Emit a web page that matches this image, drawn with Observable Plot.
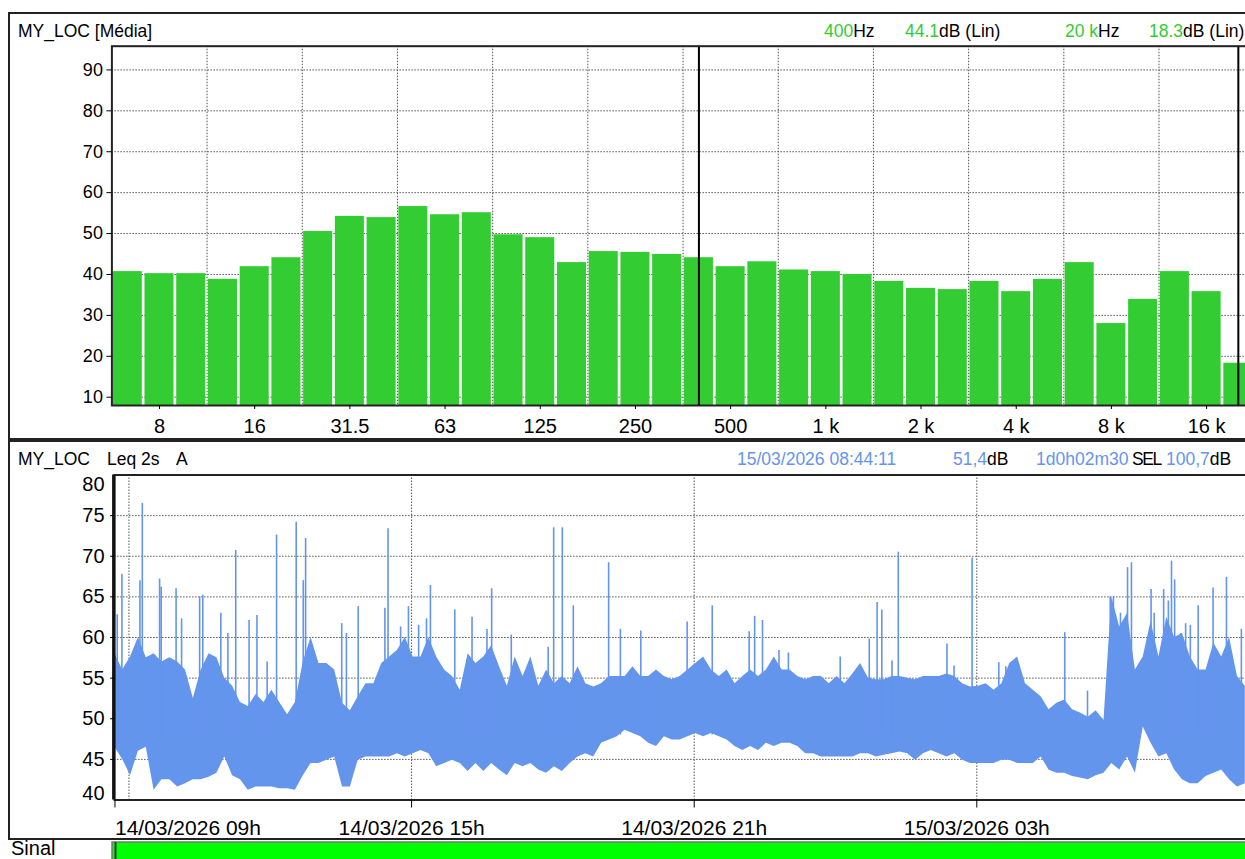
<!DOCTYPE html>
<html><head><meta charset="utf-8">
<script src="https://cdn.jsdelivr.net/npm/d3@7"></script>
<script src="https://cdn.jsdelivr.net/npm/@observablehq/plot@0.6"></script>
<style>
html,body{margin:0;padding:0;background:#fff;overflow:hidden;width:1245px;height:859px;}
body{position:relative;font-family:"Liberation Sans",Arial,sans-serif;color:#000;}
.abs{position:absolute;white-space:nowrap;line-height:1;font-size:17.5px;}
.frame{position:absolute;border:2px solid #222;box-sizing:border-box;}
.g{color:#33cc33}.b{color:#6495ED}
#top,#bottom,#sinal{position:absolute;left:0;width:1260px}
#top svg,#bottom svg,#sinal svg{max-width:none!important;display:block}
</style></head><body>
<div class="frame" style="left:8px;top:12px;width:1300px;height:428px"></div>
<div class="frame" style="left:8px;top:440px;width:1300px;height:400px"></div>
<div id="top" style="top:0"></div>
<div id="bottom" style="top:440px"></div>
<div id="sinal" style="top:841px"></div>

<div class="abs" style="left:18px;top:22.5px">MY_LOC [Média]</div>
<div class="abs" style="left:824px;top:22.5px"><span class="g">400</span>Hz</div>
<div class="abs" style="left:905px;top:22.5px"><span class="g">44.1</span>dB (Lin)</div>
<div class="abs" style="left:1065px;top:22.5px"><span class="g">20 k</span>Hz</div>
<div class="abs" style="left:1149px;top:22.5px"><span class="g">18.3</span>dB (Lin)</div>

<div class="abs" style="left:18px;top:450.5px">MY_LOC</div>
<div class="abs" style="left:107px;top:450.5px">Leq 2s</div>
<div class="abs" style="left:176px;top:450.5px">A</div>
<div class="abs b" style="left:737px;top:450.5px">15/03/2026 08:44:11</div>
<div class="abs" style="left:953px;top:450.5px"><span class="b">51,4</span>dB</div>
<div class="abs b" style="left:1036px;top:450.5px">1d0h02m30</div>
<div class="abs" style="left:1132px;top:450.5px;letter-spacing:-1.4px">SEL</div>
<div class="abs" style="left:1166px;top:450.5px"><span class="b">100,7</span>dB</div>
<div class="abs" style="left:11px;top:838px;font-size:20px">Sinal</div>

<script>
// ---------- Spectrum (1/3 octave, Média) ----------
const bands = ["6.3","8","10","12.5","16","20","25","31.5","40","50","63","80","100","125","160","200","250","315","400","500","630","800","1 k","1.25 k","1.6 k","2 k","2.5 k","3.15 k","4 k","5 k","6.3 k","8 k","10 k","12.5 k","16 k","20 k"];
const levels = [40.7,40.2,40.2,38.8,41.9,44.1,50.5,54.2,53.9,56.6,54.6,55.1,49.7,49.0,42.9,45.6,45.4,44.9,44.1,41.9,43.1,41.1,40.7,40.0,38.3,36.6,36.3,38.3,35.8,38.8,42.9,28.0,33.9,40.7,35.8,18.3];
const bandTicks = ["8","16","31.5","63","125","250","500","1 k","2 k","4 k","8 k","16 k"];
const octaveEdges = ["10","20","40","80","160","315","630","1.25 k","2.5 k","5 k","10 k"];
const cursorBands = ["400","20 k"];
const dbTicks = [10,20,30,40,50,60,70,80,90];

// ---------- Time history (Leq 2s A), 10-min envelope ----------
const coreLo = [46.5,45,43,46,46.5,41.2,42.5,42.5,41.6,42,42.5,42.5,42.8,43.3,45.3,43,42.5,41.2,41.6,41.6,
41.6,41.4,41.4,41.2,43,44.5,44.5,44.9,45.3,41.6,41.6,44.9,45.3,45.3,45.3,45.3,45.7,45.3,45.7,46.1,
45.7,44.1,44.5,44.9,44.5,43.5,44.5,43.5,44.5,43.7,43,44.5,44.1,44.5,43.7,43.3,44.1,43.5,44.5,45.3,
45.7,45.3,47,47.4,47.8,48.6,48.2,47.8,47,46.6,47.8,47.4,47.4,47.8,48.2,47.8,48.2,47.8,47.4,46.6,
46.1,46.6,46.1,47,46.6,47,47,46.6,45.7,45.7,45.3,45.3,45.3,45.3,45.3,45.7,45.7,45.3,45.5,45.7,
45.9,45.7,44.9,45.7,46.1,45.7,45.3,45.7,44.9,44.5,44.5,44.5,44.5,44.9,44.9,44.5,44.5,44.5,45.3,43.7,
43.3,43.3,42.9,42.7,42.5,43,43.3,44.5,43.7,45.3,43.3,49,47,45.3,45.7,43.7,42.5,42,42,42.9,
43.3,43.7,42.5,41.6,42];
const coreHi = [58,56,57.6,60,57.5,58,57,57.5,57,56,52.5,56,58,57.5,55,54,52,51.5,53,52,
53.5,52,50.5,52,57,60,56.8,56.8,56,51.9,51,52.7,54.3,54.3,56.8,57.6,58.4,60,57.6,57.6,
60,57.6,56,55.2,53.5,58,56.8,57.6,59,56.4,54,57.6,55.2,57.6,54,56,54.3,55.2,54.3,56.4,
54.3,53.9,54.3,55.2,55.2,55.2,56.4,55.2,55.2,56,55.2,54.8,55.2,56,56.8,57.6,56,55.2,56,54.3,
55.2,56,55.2,56,57.6,56,56,55.2,54.8,55.2,55.2,54.3,55.2,54.3,55.5,56.8,55,54.8,54.8,55.2,
55.2,55,54.8,55.2,55.2,55.2,55.5,55.2,54.3,53.9,54,54.3,53.5,54.3,56.8,57.6,54.3,53.5,52.7,51.1,
51.9,52.3,51.1,50.7,50.2,51,49.8,65,61.3,63,56,57.6,62,57.6,62.5,60,60.5,57.6,56,56,
59.3,57.6,60,55.2,54];
const spikeTime = ["14/03 08:45","14/03 08:51","14/03 09:14","14/03 09:17","14/03 09:39","14/03 09:41","14/03 10:00","14/03 10:07","14/03 10:30","14/03 10:34",
"14/03 10:57","14/03 11:06","14/03 11:16","14/03 11:33","14/03 11:43","14/03 11:56","14/03 12:08","14/03 12:33","14/03 12:42","14/03 12:45",
"14/03 13:31","14/03 13:37","14/03 13:52","14/03 14:26","14/03 14:30","14/03 14:46","14/03 14:56","14/03 15:09","14/03 15:19","14/03 15:24",
"14/03 15:55","14/03 16:17","14/03 16:36","14/03 16:42","14/03 17:07","14/03 17:54","14/03 18:01","14/03 18:12","14/03 18:26","14/03 19:11",
"14/03 19:26","14/03 19:52","14/03 20:51","14/03 21:23","14/03 22:10","14/03 22:17","14/03 22:27","14/03 22:48","14/03 23:00","15/03 00:06",
"15/03 00:43","15/03 00:53","15/03 00:59","15/03 01:12","15/03 01:20","15/03 02:22","15/03 02:31","15/03 02:54","15/03 03:28","15/03 03:37",
"15/03 04:52","15/03 05:21","15/03 05:50","15/03 05:54","15/03 06:03","15/03 06:12","15/03 06:17","15/03 06:42","15/03 06:46","15/03 06:58",
"15/03 07:04","15/03 07:08","15/03 07:12","15/03 07:20","15/03 07:26","15/03 07:32","15/03 07:42","15/03 08:01","15/03 08:18","15/03 08:37"];
const spikeLevel = [62.8,67.8,67,76.5,67.2,66.2,66,62.3,65,65.2,
63,60.5,70.7,62.1,62.7,57,72.6,74.2,67,72.2,
61.7,60.5,63.8,63.6,73.4,61.3,63.8,61.5,62.3,66.4,
63.4,62.5,61,66,60.3,58.8,73.5,73.5,63.9,69.2,
61,60.8,61.9,63.9,60.7,62.6,62.1,58.4,58.1,57.6,
59.8,64.3,63.4,57.1,70.5,59.2,56.5,69.8,56.9,56.4,
60.6,53.4,65,65,63,68.6,69.2,65.9,63,65.9,
64.5,69.4,67.1,60.5,61.7,61.5,63.9,66.1,67.4,61];
const timeTicks = ["14/03 09:00","14/03 15:00","14/03 21:00","15/03 03:00"];
const levelTicks = [45,50,55,60,65,70,75];
const startTime = "14/03 08:41:41", endTime = "15/03 08:44:11";
const binStartMin = 42, binStepMin = 10; // first envelope bin at 08:42, every 10 min

const parse = s => {
  const [dm, hm] = s.split(" ");
  const [d, m] = dm.split("/").map(Number);
  const [h, mi, se] = hm.split(":").map(Number);
  return new Date(2026, m - 1, d, h, mi, se || 0);
};
const t0 = parse(startTime), t1 = parse(endTime);
const core = coreLo.map((lo, i) => ({t: new Date(2026, 2, 14, 8, binStartMin + i * binStepMin), lo, hi: coreHi[i]}));
const spikes = spikeTime.map((s, i) => ({t: parse(s), v: spikeLevel[i]}));
const ticksT = timeTicks.map(parse);

const font = "'Liberation Sans', Arial, sans-serif";
const grid = {stroke: "#555", strokeDasharray: "1.5,1.5", strokeWidth: 1, strokeOpacity: 1};
const svgStyle = {fontFamily: font, background: "transparent", overflow: "visible", color: "#000", maxWidth: "none"};

// ---------- top chart ----------
const W = 1260, L = 111.4, R = 1253.7;
const step = (R - L) / bands.length;
const topChart = Plot.plot({
  width: W, height: 440,
  marginLeft: L, marginRight: W - R, marginTop: 45.7, marginBottom: 35,
  style: svgStyle,
  x: {type: "band", domain: bands, paddingInner: 0.085, paddingOuter: 0.0425, round: false, axis: null},
  y: {domain: [7.97, 95.8], axis: null},
  marks: [
    Plot.ruleY(dbTicks, grid),
    Plot.ruleX(octaveEdges, {x: d => d, dx: step / 2, ...grid}),
    Plot.barY(levels, {x: (d, i) => bands[i], y1: 7.97, y2: d => d, fill: "#33cc33"}),
    Plot.ruleX(cursorBands, {x: d => d, stroke: "#000", strokeWidth: 2}),
    Plot.frame({stroke: "#222", strokeWidth: 2}),
    Plot.axisX({ticks: bandTicks, tickSize: 4, tickPadding: 9, fontSize: 20, stroke: "#000", label: null}),
    Plot.axisY({ticks: dbTicks, tickSize: 5, tickPadding: 4, fontSize: 18, stroke: "#000", label: null})
  ]
});
document.getElementById("top").append(topChart);

// ---------- bottom chart ----------
const BL = 114.1, BR = 1246.5;
const fmt = d3.timeFormat("%d/%m/%Y %Hh");
const bottomChart = Plot.plot({
  width: W, height: 402,
  marginLeft: BL, marginRight: W - BR, marginTop: 34.5, marginBottom: 42.5,
  style: svgStyle,
  x: {type: "time", domain: [t0, t1], axis: null},
  y: {domain: [40, 80], axis: null},
  marks: [
    Plot.ruleY(levelTicks, grid),
    Plot.ruleX(ticksT, grid),
    Plot.areaY(core, {x: "t", y1: "lo", y2: "hi", fill: "#6495ED", curve: "linear"}),
    Plot.ruleX(spikes, {x: "t", y1: 48, y2: "v", stroke: "#6495ED", strokeWidth: 1.6}),
    Plot.frame({stroke: "#222", strokeWidth: 2}),
    Plot.ruleX([t0], {stroke: "#111", strokeWidth: 3, dx: -1}),
    Plot.axisX({ticks: ticksT.slice(0, 1), tickFormat: fmt, tickSize: 8, tickPadding: 12, fontSize: 21, textAnchor: "start", dx: -14, stroke: "#000", label: null}),
    Plot.axisX({ticks: ticksT.slice(1), tickFormat: fmt, tickSize: 8, tickPadding: 12, fontSize: 21, stroke: "#000", label: null}),
    Plot.axisY({ticks: levelTicks, tickSize: 4, tickPadding: 6, fontSize: 20, stroke: "#000", label: null}),
    Plot.axisY({ticks: [80], tickSize: 0, tickPadding: 10, fontSize: 20, dy: 10, label: null}),
    Plot.axisY({ticks: [40], tickSize: 0, tickPadding: 10, fontSize: 20, dy: -6, label: null})
  ]
});
document.getElementById("bottom").append(bottomChart);

// ---------- signal bar ----------
const sinalChart = Plot.plot({
  width: W, height: 20,
  marginLeft: 112, marginRight: W - BR, marginTop: 1, marginBottom: 0,
  style: {background: "transparent", overflow: "visible", maxWidth: "none"},
  x: {type: "time", domain: [t0, t1], axis: null},
  y: {axis: null},
  marks: [
    Plot.barX([{a: t0, b: t1}], {x1: "a", x2: "b", fill: "#00ff00", stroke: "#777", strokeWidth: 1.5}),
    Plot.ruleX([t0], {stroke: "#333", strokeWidth: 2, dx: 3})
  ]
});
document.getElementById("sinal").append(sinalChart);
</script>
</body></html>
